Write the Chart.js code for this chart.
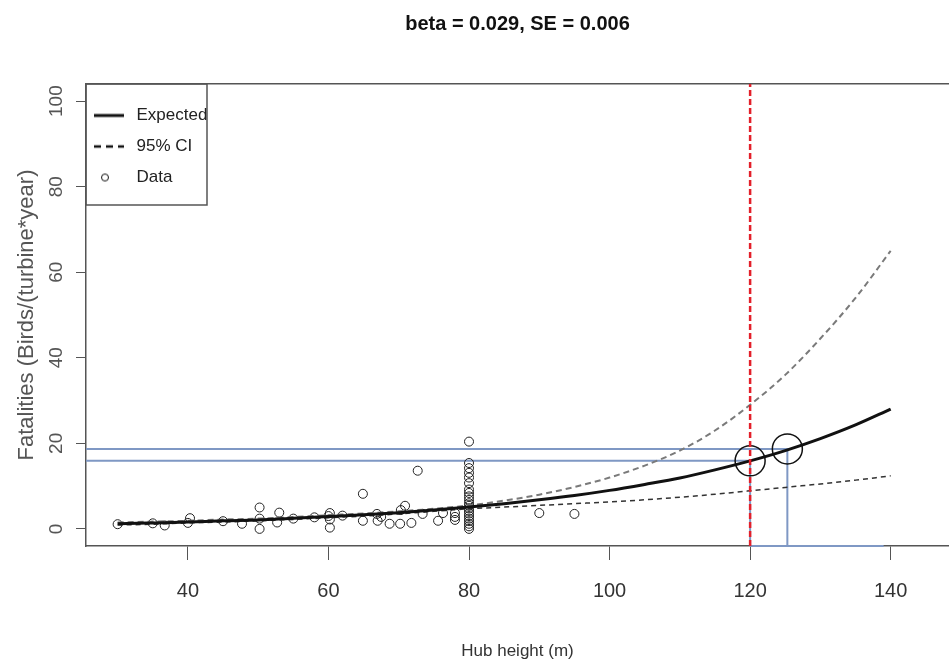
<!DOCTYPE html>
<html lang="en">
<head>
  <meta charset="UTF-8">
  <title>Fatalities vs hub height</title>
  <script src="https://cdn.jsdelivr.net/npm/chart.js"></script>
  <style>
    body {
      margin: 0;
      background: #fff;
    }
  </style>
</head>
<body>
<canvas id="grafico" width="949" height="668"></canvas>

<script>
  // fitted curve and 95% CI
  const heights  = [30, 35, 40, 45, 50, 55, 60, 65, 70, 75, 80, 85, 90, 95, 100, 105, 110, 115, 120, 125, 130, 135, 140];
  const expected = [1.2, 1.4, 1.6, 1.9, 2.1, 2.5, 2.9, 3.3, 3.8, 4.4, 5.1, 5.9, 6.8, 7.8, 9.0, 10.4, 11.9, 13.8, 15.9, 18.3, 21.1, 24.3, 28.0];
  const ciUpper  = [1.5, 1.7, 1.9, 2.2, 2.4, 2.8, 3.2, 3.6, 4.1, 4.7, 5.5, 6.6, 8.0, 9.8, 12.0, 14.8, 18.3, 23.0, 29.0, 36.0, 44.5, 54.0, 65.0];
  const ciLower  = [0.9, 1.1, 1.4, 1.6, 1.9, 2.2, 2.6, 3.0, 3.5, 4.1, 4.7, 5.1, 5.5, 5.9, 6.3, 6.8, 7.4, 8.1, 8.9, 9.7, 10.5, 11.4, 12.4];

  // observed turbines
  const obsHeight = [30, 35, 36.7, 40, 40.3, 45, 47.7, 50.2, 50.2, 50.2, 52.7, 53, 55, 58, 60.2, 60.2, 60.2, 60, 62, 64.9,
                     64.9, 66.9, 67, 67.5, 68.7, 70.2, 70.3, 70.9, 71.8, 72.7, 73.4, 75.6, 76.3, 78, 78, 78,
                     80, 80, 80, 80, 80, 80, 80, 80, 80, 80, 80, 80, 80, 80, 80, 80, 80, 80, 80, 80, 80,
                     90, 95];
  const obsFatal  = [1.1, 1.3, 0.8, 1.4, 2.5, 1.8, 1.2, 5.0, 2.4, 0.0, 1.5, 3.8, 2.4, 2.7, 3.7, 2.2, 0.3, 3.0, 3.1, 8.2,
                     1.9, 3.5, 1.9, 2.8, 1.2, 1.2, 4.4, 5.4, 1.4, 13.6, 3.5, 1.9, 3.7, 3.7, 2.1, 2.8,
                     20.4, 15.4, 14.2, 13.1, 12.0, 10.7, 9.2, 8.4, 7.6, 6.8, 6.0, 5.4, 4.8, 4.2, 3.6, 3.0, 2.4, 1.8, 1.2, 0.6, 0.0,
                     3.7, 3.5];

  // marked points (120 m and the 125 m read-off)
  const refHeight = [120, 125.3];
  const refFatal  = [15.9, 18.7];

  const xTicks = [40, 60, 80, 100, 120, 140];
  const yTicks = [0, 20, 40, 60, 80, 100];
  const xMin = 25.5, xMax = 148.3, yMin = -4, yMax = 104;

  const arial = "'Liberation Sans', Arial, sans-serif";

  const pts = (xs, ys) => xs.map((x, i) => ({x: x, y: ys[i]}));

  // small legend symbols
  function marca(draw) {
    const c = document.createElement('canvas');
    c.width = 40; c.height = 14;
    const g = c.getContext('2d');
    g.strokeStyle = '#111';
    g.beginPath();
    draw(g);
    g.stroke();
    return c;
  }
  const mExpected = marca(g => { g.lineWidth = 3; g.moveTo(0, 7); g.lineTo(30, 7); });
  const mCI = marca(g => { g.lineWidth = 2.5; g.setLineDash([7, 5]); g.moveTo(0, 7); g.lineTo(30, 7); });
  const mData = marca(g => { g.lineWidth = 1; g.arc(11, 7, 3.5, 0, Math.PI * 2); });

  // legend inside the plot, top left, with a box around it
  const marco = {
    id: 'marco',
    afterLayout(chart) {
      const l = chart.legend, a = chart.chartArea;
      l.top = a.top + 9;
      l.bottom = a.bottom;
    },
    afterDraw(chart) {
      const {ctx, chartArea: a} = chart;
      ctx.save();
      ctx.strokeStyle = '#555';
      ctx.lineWidth = 1.5;
      ctx.strokeRect(a.left, a.top, 121, 121);
      ctx.restore();
    }
  };

  const blue = '#7f98c4';

  new Chart(document.getElementById('grafico'), {
    type: 'scatter',
    data: {
      datasets: [
        {
          data: [{x: refHeight[0], y: yMin}, {x: refHeight[0], y: yMax}],
          showLine: true, borderColor: '#e3202a', borderWidth: 2.5, borderDash: [6, 3], pointRadius: 0
        },
        {
          data: pts(refHeight, refFatal),
          pointRadius: 15, borderColor: '#111', borderWidth: 1.5, backgroundColor: 'transparent'
        },
        {
          data: pts(heights, expected),
          showLine: true, borderColor: '#111', borderWidth: 3, pointRadius: 0, cubicInterpolationMode: 'monotone'
        },
        {
          data: pts(heights, ciUpper),
          showLine: true, borderColor: '#7a7a7a', borderWidth: 2, borderDash: [6, 4], pointRadius: 0, cubicInterpolationMode: 'monotone'
        },
        {
          data: pts(heights, ciLower),
          showLine: true, borderColor: '#333', borderWidth: 1.5, borderDash: [5, 4], pointRadius: 0, cubicInterpolationMode: 'monotone'
        },
        {
          data: pts(obsHeight, obsFatal),
          pointRadius: 4.5, borderColor: '#222', borderWidth: 1, backgroundColor: 'transparent'
        },
        // blue read-off lines
        {
          data: [{x: xMin, y: refFatal[0]}, {x: refHeight[0], y: refFatal[0]}, {x: refHeight[0], y: yMin}],
          showLine: true, borderColor: blue, borderWidth: 2, pointRadius: 0
        },
        {
          data: [{x: xMin, y: refFatal[1]}, {x: refHeight[1], y: refFatal[1]}, {x: refHeight[1], y: yMin}],
          showLine: true, borderColor: blue, borderWidth: 2, pointRadius: 0
        },
        {
          data: [{x: refHeight[0], y: yMin}, {x: 139, y: yMin}],
          showLine: true, borderColor: blue, borderWidth: 2, pointRadius: 0, clip: 4
        }
      ]
    },
    options: {
      responsive: false,
      animation: false,
      events: [],
      layout: { padding: 0, autoPadding: false },
      plugins: {
        legend: {
          position: 'chartArea',
          align: 'start',
          labels: {
            usePointStyle: true,
            pointStyleWidth: 28,
            padding: 14,
            color: '#222',
            font: { family: arial, size: 17 },
            generateLabels: () => [
              { text: 'Expected', pointStyle: mExpected, fontColor: '#222', hidden: false },
              { text: '95% CI', pointStyle: mCI, fontColor: '#222', hidden: false },
              { text: 'Data', pointStyle: mData, fontColor: '#222', hidden: false }
            ]
          }
        },
        tooltip: { enabled: false }
      },
      scales: {
        x: {
          type: 'linear',
          min: xMin,
          max: xMax,
          afterBuildTicks: s => { s.ticks = xTicks.map(v => ({value: v})); },
          afterFit: s => { s.height = 122; },
          grid: { drawOnChartArea: false, tickLength: 14, color: '#555' },
          border: { color: '#555', width: 1.5 },
          ticks: { color: '#333', padding: 19, maxRotation: 0, font: { family: arial, size: 20 } },
          title: {
            display: true,
            text: 'Hub height (m)',
            color: '#333',
            font: { family: arial, size: 17 },
            padding: { top: 4, bottom: 6 }
          }
        },
        // top axis: only the frame line and the plot title, centred over the plot
        top: {
          type: 'linear',
          position: 'top',
          afterFit: s => { s.height = 84; },
          grid: { display: false },
          ticks: { display: false },
          border: { color: '#555', width: 1.5 },
          title: {
            display: true,
            text: 'beta = 0.029, SE = 0.006',
            color: '#111',
            font: { family: arial, size: 20, weight: 'bold' },
            padding: { top: 12, bottom: 0 }
          }
        },
        y: {
          type: 'linear',
          min: yMin,
          max: yMax,
          afterBuildTicks: s => { s.ticks = yTicks.map(v => ({value: v})); },
          afterFit: s => { s.width = 86; },
          grid: { drawOnChartArea: false, tickLength: 10, color: '#555' },
          border: { color: '#555', width: 1.5 },
          ticks: { color: '#555', padding: 3, minRotation: 90, maxRotation: 90, crossAlign: 'center', font: { family: arial, size: 19 } },
          title: {
            display: true,
            text: 'Fatalities (Birds/(turbine*year)',
            color: '#555',
            font: { family: arial, size: 22 },
            padding: { top: 14, bottom: 4 }
          }
        }
      }
    },
    plugins: [marco]
  });
</script>
</body>
</html>
